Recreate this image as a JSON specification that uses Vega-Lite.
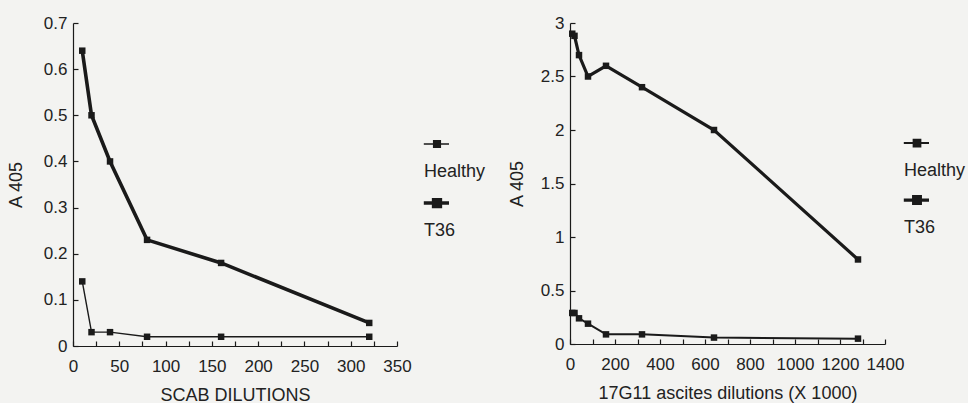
{
  "$schema": "https://vega.github.io/schema/vega-lite/v6.json",
  "background": "#f3f3f1",
  "padding": {"left": 7, "top": 14, "right": 2, "bottom": 2},
  "config": {
    "font": "Liberation Sans",
    "view": {"stroke": null},
    "axis": {
      "grid": false,
      "domainColor": "#1a1a1a",
      "domainWidth": 1.2,
      "tickColor": "#1a1a1a",
      "tickWidth": 1.2,
      "tickSize": -5,
      "labelColor": "#222222",
      "titleColor": "#222222",
      "labelFontSize": 17,
      "titleFontSize": 18,
      "titleFontWeight": "normal",
      "labelPadding": 11,
      "labelOverlap": false,
      "labelFlush": false
    },
    "axisX": {"labelPadding": 17, "titlePadding": 12},
    "legend": {
      "labelFontSize": 18,
      "labelColor": "#222222",
      "padding": 0
    }
  },
  "datasets": {
    "scab": [
      {"dilution": 10, "a405": 0.64, "series": "T36"},
      {"dilution": 20, "a405": 0.50, "series": "T36"},
      {"dilution": 40, "a405": 0.40, "series": "T36"},
      {"dilution": 80, "a405": 0.23, "series": "T36"},
      {"dilution": 160, "a405": 0.18, "series": "T36"},
      {"dilution": 320, "a405": 0.05, "series": "T36"},
      {"dilution": 10, "a405": 0.14, "series": "Healthy"},
      {"dilution": 20, "a405": 0.03, "series": "Healthy"},
      {"dilution": 40, "a405": 0.03, "series": "Healthy"},
      {"dilution": 80, "a405": 0.02, "series": "Healthy"},
      {"dilution": 160, "a405": 0.02, "series": "Healthy"},
      {"dilution": 320, "a405": 0.02, "series": "Healthy"}
    ],
    "ascites": [
      {"dilution": 10, "a405": 2.90, "series": "T36"},
      {"dilution": 20, "a405": 2.88, "series": "T36"},
      {"dilution": 40, "a405": 2.70, "series": "T36"},
      {"dilution": 80, "a405": 2.50, "series": "T36"},
      {"dilution": 160, "a405": 2.60, "series": "T36"},
      {"dilution": 320, "a405": 2.40, "series": "T36"},
      {"dilution": 640, "a405": 2.00, "series": "T36"},
      {"dilution": 1280, "a405": 0.79, "series": "T36"},
      {"dilution": 10, "a405": 0.29, "series": "Healthy"},
      {"dilution": 20, "a405": 0.29, "series": "Healthy"},
      {"dilution": 40, "a405": 0.24, "series": "Healthy"},
      {"dilution": 80, "a405": 0.19, "series": "Healthy"},
      {"dilution": 160, "a405": 0.09, "series": "Healthy"},
      {"dilution": 320, "a405": 0.09, "series": "Healthy"},
      {"dilution": 640, "a405": 0.06, "series": "Healthy"},
      {"dilution": 1280, "a405": 0.05, "series": "Healthy"}
    ]
  },
  "spacing": 22,
  "hconcat": [
    {
      "width": 324,
      "height": 323,
      "data": {"name": "scab"},
      "encoding": {
        "x": {
          "field": "dilution", "type": "quantitative",
          "scale": {"domain": [0, 350], "nice": false},
          "axis": {
            "title": "SCAB DILUTIONS",
            "values": [0, 25, 50, 75, 100, 125, 150, 175, 200, 225, 250, 275, 300, 325, 350],
            "format": "d",
            "labelExpr": "datum.value % 50 === 0 ? datum.label : ''"
          }
        },
        "y": {
          "field": "a405", "type": "quantitative",
          "scale": {"domain": [0, 0.7], "nice": false},
          "axis": {
            "title": "A 405",
            "titlePadding": 18,
            "values": [0, 0.1, 0.2, 0.3, 0.4, 0.5, 0.6, 0.7],
            "format": ".1~f"
          }
        }
      },
      "layer": [
        {
          "mark": {"type": "line", "color": "#1a1a1a"},
          "encoding": {
            "strokeWidth": {
              "field": "series", "type": "ordinal",
              "scale": {"type": "ordinal", "domain": ["Healthy", "T36"], "range": [1.4, 3.6]},
              "legend": {
                "title": null,
                "orient": "none",
                "legendX": 350,
                "legendY": 136,
                "symbolType": "M-1.1,-2.33L1,-2.33M-0.28,-2.61L0.28,-2.61L0.28,-2.05L-0.28,-2.05Z",
                "symbolSize": 576,
                "symbolFillColor": "#1a1a1a",
                "symbolStrokeColor": "#1a1a1a",
                "labelOffset": -27,
                "rowPadding": 11
              }
            }
          }
        },
        {
          "mark": {"type": "point", "shape": "square", "filled": true, "size": 42, "color": "#1a1a1a", "opacity": 1},
          "encoding": {}
        }
      ]
    },
    {
      "width": 315,
      "height": 321,
      "data": {"name": "ascites"},
      "encoding": {
        "x": {
          "field": "dilution", "type": "quantitative",
          "scale": {"domain": [0, 1400], "nice": false},
          "axis": {
            "title": "17G11 ascites dilutions (X 1000)",
            "values": [0, 100, 200, 300, 400, 500, 600, 700, 800, 900, 1000, 1100, 1200, 1300, 1400],
            "format": "d",
            "labelExpr": "datum.value % 200 === 0 ? datum.label : ''"
          }
        },
        "y": {
          "field": "a405", "type": "quantitative",
          "scale": {"domain": [0, 3], "nice": false},
          "axis": {
            "title": "A 405",
            "titlePadding": 14,
            "values": [0, 0.5, 1, 1.5, 2, 2.5, 3],
            "format": ".1~f"
          }
        }
      },
      "layer": [
        {
          "mark": {"type": "line", "color": "#1a1a1a"},
          "encoding": {
            "strokeWidth": {
              "field": "series", "type": "ordinal",
              "scale": {"type": "ordinal", "domain": ["Healthy", "T36"], "range": [2.0, 3.2]},
              "legend": {
                "title": null,
                "orient": "none",
                "legendX": 333,
                "legendY": 135,
                "symbolType": "M-1.1,-2.33L1,-2.33M-0.28,-2.61L0.28,-2.61L0.28,-2.05L-0.28,-2.05Z",
                "symbolSize": 576,
                "symbolFillColor": "#1a1a1a",
                "symbolStrokeColor": "#1a1a1a",
                "labelOffset": -27,
                "rowPadding": 10
              }
            }
          }
        },
        {
          "mark": {"type": "point", "shape": "square", "filled": true, "size": 42, "color": "#1a1a1a", "opacity": 1},
          "encoding": {}
        }
      ]
    }
  ],
  "resolve": {
    "scale": {"strokeWidth": "independent", "x": "independent", "y": "independent"},
    "legend": {"strokeWidth": "independent"}
  }
}
